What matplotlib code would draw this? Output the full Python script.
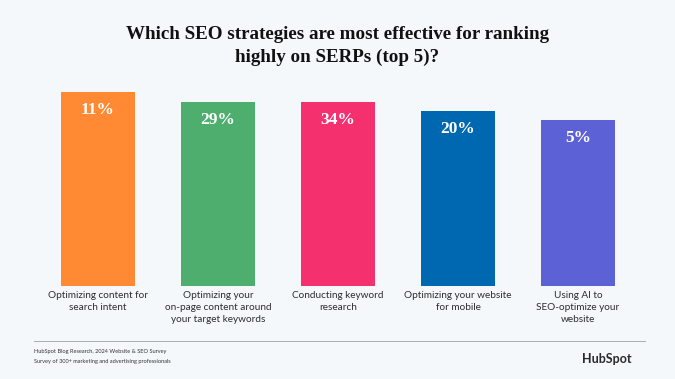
import matplotlib.pyplot as plt

# Datos del gráfico
categorias = [
    "Optimizing content for\nsearch intent",
    "Optimizing your\non-page content around\nyour target keywords",
    "Conducting keyword\nresearch",
    "Optimizing your website\nfor mobile",
    "Using AI to\nSEO-optimize your\nwebsite",
]
etiquetas = ["11%", "29%", "34%", "20%", "5%"]
alturas = [194, 184, 184, 175, 166]  # alturas relativas
colores = ["#ff8a33", "#4dae6d", "#f5306f", "#0068b0", "#5c62d6"]

fondo = "#f4f8fb"
fig = plt.figure(figsize=(6.75, 3.79), dpi=100, facecolor=fondo)

# Ejes en coordenadas de píxel: x 38..638, y 286 (base) .. 86
W, H = 675, 379
ax = fig.add_axes([38 / W, (H - 286) / H, 600 / W, 200 / H])
ax.set_facecolor(fondo)
x = range(len(categorias))
barras = ax.bar(x, alturas, width=0.617, color=colores)
ax.set_xlim(-0.5, len(categorias) - 0.5)
ax.set_ylim(0, 200)
for s in ax.spines.values():
    s.set_visible(False)
ax.set_yticks([])
ax.set_xticks([])
ax.axhline(0, color="#e3e8ee", lw=0.8, zorder=0)

for xi, h, t in zip(x, alturas, etiquetas):
    ax.text(xi, h - 18, t, ha="center", va="center", color="white",
            fontsize=12.5, fontweight="bold", family="Liberation Serif")

for xi, c in zip(x, categorias):
    ax.text(xi, -5, c, ha="center", va="top", color="#2d2d2d",
            fontsize=7.2, family="Lato", linespacing=1.4)

# Título
fig.text(0.5, 1 - 46 / H, "Which SEO strategies are most effective for ranking\nhighly on SERPs (top 5)?",
         ha="center", va="center", fontsize=13.7, fontweight="bold",
         family="Liberation Serif", color="#111111", linespacing=1.4)

# Pie
fig.add_artist(plt.Line2D([34 / W, 645 / W], [1 - 341 / H, 1 - 341 / H],
                          color="#a9adb3", lw=0.7))
fig.text(34 / W, 1 - 351 / H, "HubSpot Blog Research, 2024 Website & SEO Survey",
         fontsize=4.1, family="Lato", color="#333333", va="center")
fig.text(34 / W, 1 - 361 / H, "Survey of 300+ marketing and advertising professionals",
         fontsize=4.1, family="Lato", color="#333333", va="center")
fig.text(632 / W, 1 - 359 / H, "HubSpot", ha="right", va="center",
         fontsize=9, fontweight="bold", family="Lato", color="#2a2a2a")

plt.savefig("out.png", dpi=100, facecolor=fondo)
